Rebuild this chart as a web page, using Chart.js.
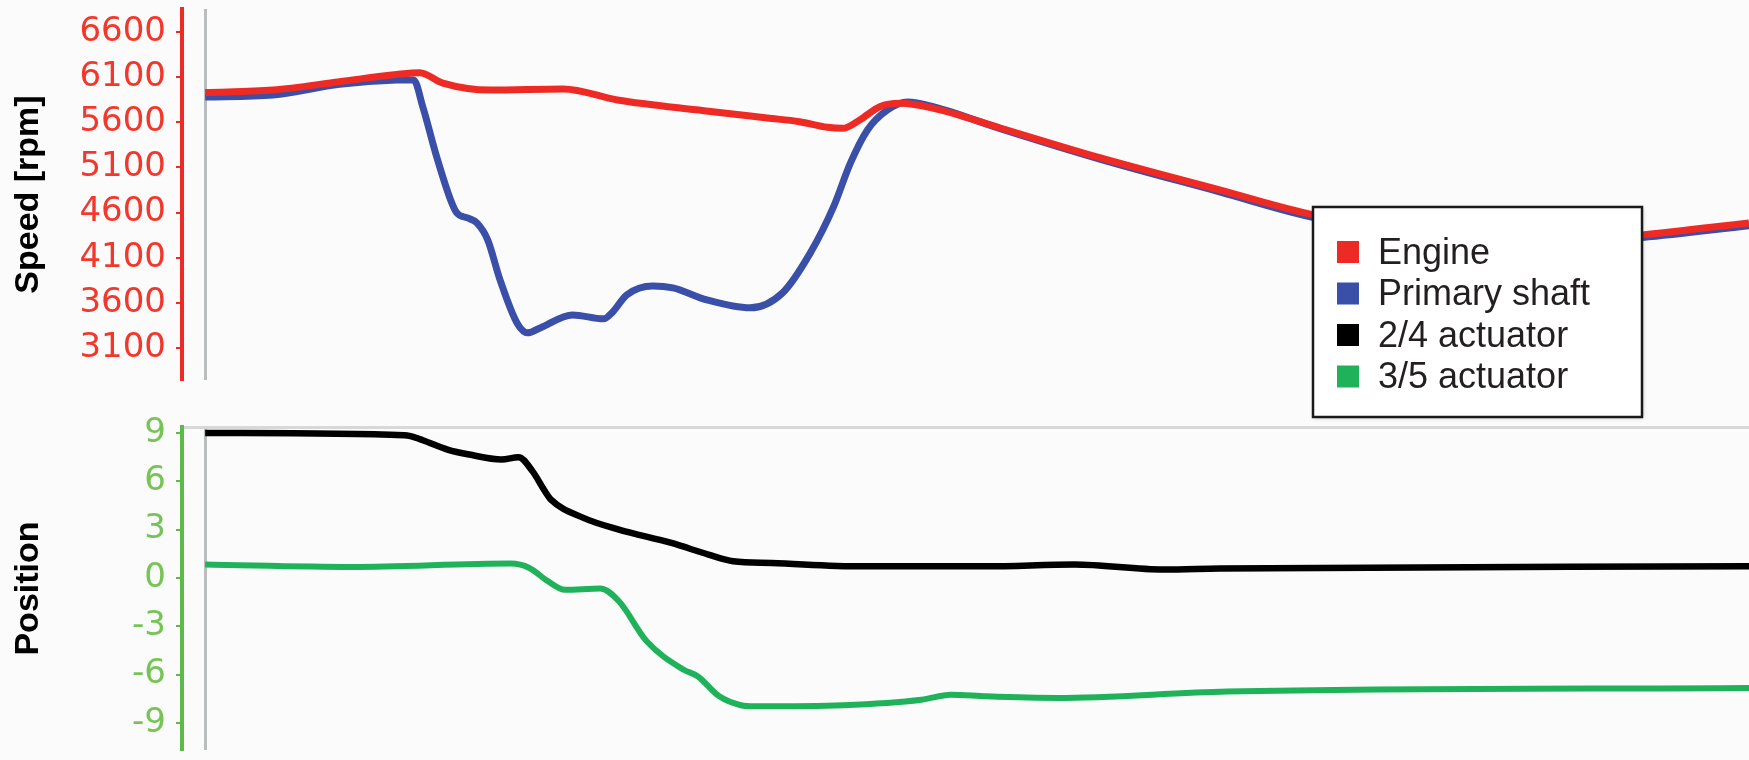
<!DOCTYPE html>
<html lang="en">
<head>
    <meta charset="UTF-8">
    <title>Speed and actuator position</title>
    <script src="https://cdn.jsdelivr.net/npm/chart.js"></script>
    <style>
        body {
            margin: 0;
            padding: 0;
            background-color: #fcfbfb;
            width: 1749px;
            height: 760px;
            overflow: hidden;
            position: relative;
        }
        #speedChart {
            position: absolute;
            left: 0;
            top: 0;
        }
        #positionChart {
            position: absolute;
            left: 0;
            top: 395px;
        }
    </style>
</head>
<body>

<canvas id="speedChart" width="1749" height="425"></canvas>
<canvas id="positionChart" width="1749" height="365"></canvas>

<script>
    // time axis is arbitrary (0..1000)
    const engineTime = [0, 44, 87, 124, 139, 154, 185, 232, 267, 323, 364, 385, 403, 413, 424, 437, 450, 472, 515, 580, 657, 718, 774, 826, 878, 931, 1000];
    const engineRpm  = [5930, 5958, 6050, 6130, 6150, 6035, 5958, 5970, 5847, 5729, 5648, 5607, 5545, 5533, 5626, 5773, 5810, 5755, 5537, 5205, 4851, 4574, 4420, 4310, 4280, 4353, 4485];

    const shaftTime = [0, 44, 87, 124, 135, 141, 150, 159, 163, 170, 176, 183, 191, 202, 209, 217, 238, 258, 264, 273, 290, 303, 325, 353, 374, 392, 407, 418, 429, 442, 455, 472, 515, 580, 657, 718, 774, 826, 878, 931, 1000];
    const shaftRpm  = [5880, 5902, 6020, 6068, 6070, 5770, 5216, 4740, 4596, 4541, 4486, 4298, 3855, 3378, 3268, 3323, 3467, 3423, 3500, 3688, 3788, 3766, 3633, 3545, 3711, 4154, 4663, 5150, 5515, 5737, 5825, 5770, 5530, 5190, 4830, 4545, 4390, 4290, 4260, 4325, 4455];

    const act24Time = [0, 129, 133, 141, 157, 171, 192, 203, 212, 220, 224, 245, 268, 302, 326, 342, 367, 425, 506, 563, 621, 657, 1000];
    const act24Pos  = [9.0, 8.86, 8.8, 8.55, 7.97, 7.66, 7.35, 7.5, 6.63, 5.4, 4.86, 3.73, 3.0, 2.17, 1.45, 1.04, 0.93, 0.72, 0.72, 0.83, 0.52, 0.58, 0.72];

    const act35Time = [0, 95, 198, 210, 222, 233, 256, 268, 286, 310, 319, 333, 347, 356, 413, 464, 483, 506, 552, 662, 1000];
    const act35Pos  = [0.83, 0.68, 0.89, 0.62, -0.2, -0.73, -0.66, -1.45, -3.93, -5.7, -6.1, -7.35, -7.9, -7.97, -7.9, -7.56, -7.25, -7.35, -7.45, -7.05, -6.83];

    const speedTicks = [3100, 3600, 4100, 4600, 5100, 5600, 6100, 6600];
    const positionTicks = [-9, -6, -3, 0, 3, 6, 9];

    const legendLabels = ['Engine', 'Primary shaft', '2/4 actuator', '3/5 actuator'];
    const legendColors = ['#ee2a24', '#3a4fa8', '#000000', '#1fb25a'];

    function toPoints(xs, ys) {
        return xs.map((x, i) => ({ x: x, y: ys[i] }));
    }

    // fixed width for the y axis, no extra padding for tick labels
    function fitY(s) {
        s.width = 182;
        s.paddingTop = 0;
        s.paddingBottom = 0;
    }

    // legend box drawn over the top chart
    const boxLegend = {
        id: 'boxLegend',
        afterDraw(chart) {
            const ctx = chart.ctx;
            const x = chart.chartArea.right - 436;
            const y = 207;
            const w = 329, h = 210;
            ctx.save();
            ctx.shadowColor = 'rgba(0,0,0,0.25)';
            ctx.shadowBlur = 4;
            ctx.shadowOffsetX = 1;
            ctx.shadowOffsetY = 1;
            ctx.fillStyle = '#ffffff';
            ctx.fillRect(x, y, w, h);
            ctx.shadowColor = 'transparent';
            ctx.lineWidth = 2.5;
            ctx.strokeStyle = '#1a1a1a';
            ctx.strokeRect(x, y, w, h);
            ctx.font = '36px "Liberation Sans", Arial, sans-serif';
            ctx.textBaseline = 'middle';
            legendLabels.forEach((label, i) => {
                const cy = y + 45 + i * 41.5;
                ctx.fillStyle = legendColors[i];
                ctx.fillRect(x + 24, cy - 11, 22, 22);
                ctx.fillStyle = '#231f20';
                ctx.fillText(label, x + 65, cy + 2);
            });
            ctx.restore();
        }
    };

    const zeroGrid = {
        display: true,
        drawOnChartArea: true,
        drawTicks: false,
        color: '#b9bdbd',
        lineWidth: 3
    };

    new Chart(document.getElementById('speedChart'), {
        type: 'line',
        data: {
            datasets: [
                {
                    label: 'Engine',
                    data: toPoints(engineTime, engineRpm),
                    borderColor: legendColors[0],
                    borderWidth: 7,
                    pointRadius: 0,
                    cubicInterpolationMode: 'monotone'
                },
                {
                    label: 'Primary shaft',
                    data: toPoints(shaftTime, shaftRpm),
                    borderColor: legendColors[1],
                    borderWidth: 7,
                    pointRadius: 0,
                    cubicInterpolationMode: 'monotone'
                }
            ]
        },
        options: {
            responsive: false,
            animation: false,
            layout: { padding: { top: 9, bottom: 45, left: 0, right: 0 } },
            plugins: {
                legend: { display: false },
                tooltip: { enabled: false }
            },
            scales: {
                x: {
                    type: 'linear',
                    min: -15,
                    max: 1000,
                    afterBuildTicks: s => { s.ticks = [{ value: 0 }]; },
                    afterFit: s => { s.height = 0; },
                    ticks: { display: false },
                    border: { display: false },
                    grid: zeroGrid
                },
                y: {
                    min: 2746,
                    max: 6855,
                    afterBuildTicks: s => { s.ticks = speedTicks.map(v => ({ value: v })); },
                    afterFit: fitY,
                    border: { color: '#ee2a24', width: 4 },
                    grid: { drawOnChartArea: false, drawTicks: true, tickLength: 6, color: '#ee2a24', lineWidth: 2 },
                    ticks: {
                        color: '#f2382c',
                        padding: 10,
                        font: { family: 'DejaVu Sans', size: 34 },
                        callback: v => String(v)
                    },
                    title: {
                        display: true,
                        text: 'Speed [rpm]',
                        color: '#000000',
                        padding: { top: 8, bottom: 0 },
                        font: { family: 'Liberation Sans', size: 34, weight: 'bold' }
                    }
                }
            }
        },
        plugins: [boxLegend]
    });

    new Chart(document.getElementById('positionChart'), {
        type: 'line',
        data: {
            datasets: [
                {
                    label: '2/4 actuator',
                    data: toPoints(act24Time, act24Pos),
                    borderColor: legendColors[2],
                    borderWidth: 6.5,
                    pointRadius: 0,
                    cubicInterpolationMode: 'monotone'
                },
                {
                    label: '3/5 actuator',
                    data: toPoints(act35Time, act35Pos),
                    borderColor: legendColors[3],
                    borderWidth: 6,
                    pointRadius: 0,
                    cubicInterpolationMode: 'monotone'
                }
            ]
        },
        options: {
            responsive: false,
            animation: false,
            layout: { padding: { top: 32, bottom: 10, left: 0, right: 0 } },
            plugins: {
                legend: { display: false },
                tooltip: { enabled: false }
            },
            scales: {
                x: {
                    type: 'linear',
                    position: 'top',
                    min: -15,
                    max: 1000,
                    afterBuildTicks: s => { s.ticks = [{ value: 0 }]; },
                    afterFit: s => { s.height = 0; },
                    ticks: { display: false },
                    border: { display: true, color: '#d6d8da', width: 3 },
                    grid: zeroGrid
                },
                y: {
                    min: -10.68,
                    max: 9.37,
                    afterBuildTicks: s => { s.ticks = positionTicks.map(v => ({ value: v })); },
                    afterFit: fitY,
                    border: { color: '#5cba47', width: 4 },
                    grid: { drawOnChartArea: false, drawTicks: true, tickLength: 6, color: '#5cba47', lineWidth: 2 },
                    ticks: {
                        color: '#76c455',
                        padding: 10,
                        font: { family: 'DejaVu Sans', size: 34 },
                        callback: v => String(v)
                    },
                    title: {
                        display: true,
                        text: 'Position',
                        color: '#000000',
                        padding: { top: 8, bottom: 0 },
                        font: { family: 'Liberation Sans', size: 34, weight: 'bold' }
                    }
                }
            }
        }
    });
</script>

</body>
</html>
